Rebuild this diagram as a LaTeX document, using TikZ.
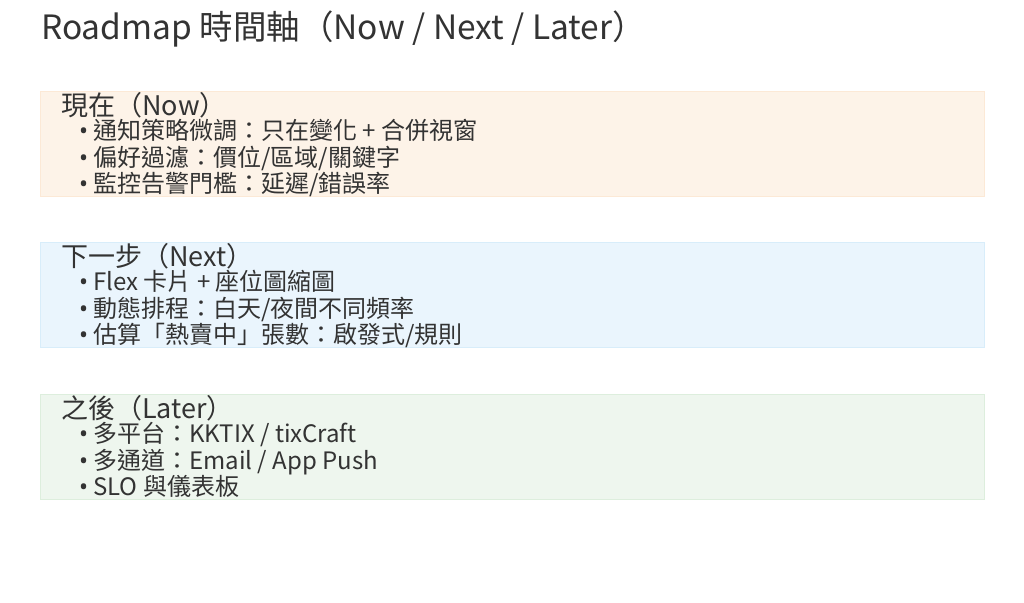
\documentclass[tikz,border=0pt]{standalone}
\usepackage{fontspec}
\setmainfont{Noto Sans CJK TC}
\newfontfamily\dotfont{Noto Sans}
\definecolor{nowfill}{HTML}{FDF3E8}
\definecolor{nowline}{HTML}{FCE9D6}
\definecolor{nextfill}{HTML}{EAF5FD}
\definecolor{nextline}{HTML}{D8EDFA}
\definecolor{laterfill}{HTML}{EEF6EE}
\definecolor{laterline}{HTML}{DDEEDD}
\definecolor{ink}{HTML}{333333}
\newcommand{\itm}{{\dotfont •}\hspace{5pt}}

\begin{document}
\begin{tikzpicture}[x=1pt, y=-1pt, text=ink,
    phase/.style={anchor=north west, minimum width=944pt, minimum height=105pt, inner sep=0pt},
    title/.style={anchor=base west, inner sep=0pt, font=\fontsize{33.5}{38}\selectfont},
    head/.style={anchor=base west, inner sep=0pt, font=\fontsize{27}{30}\selectfont},
    item/.style={anchor=base west, inner sep=0pt, font=\fontsize{24}{28}\selectfont}]
  \useasboundingbox (0,0) rectangle (1024,602);

  \node[title] (title) at (41,39.5) {Roadmap 時間軸（Now / Next / Later）};

  % Now
  \node[phase, fill=nowfill, draw=nowline] (now) at (40,91) {};
  \node[head] (nowhead) at (61,115) {現在（Now）};
  \node[item] (now1) at (79,139.5) {\itm 通知策略微調：只在變化 + 合併視窗};
  \node[item] (now2) at (79,166) {\itm 偏好過濾：價位/區域/關鍵字};
  \node[item] (now3) at (79,192.5) {\itm 監控告警門檻：延遲/錯誤率};

  % Next
  \node[phase, fill=nextfill, draw=nextline] (next) at (40,242) {};
  \node[head] (nexthead) at (61,266) {下一步（Next）};
  \node[item] (next1) at (79,290.5) {\itm Flex 卡片 + 座位圖縮圖};
  \node[item] (next2) at (79,317) {\itm 動態排程：白天/夜間不同頻率};
  \node[item] (next3) at (79,343.5) {\itm 估算「熱賣中」張數：啟發式/規則};

  % Later
  \node[phase, fill=laterfill, draw=laterline] (later) at (40,394) {};
  \node[head] (laterhead) at (61,418) {之後（Later）};
  \node[item] (later1) at (79,442.5) {\itm 多平台：KKTIX / tixCraft};
  \node[item] (later2) at (79,469) {\itm 多通道：Email / App Push};
  \node[item] (later3) at (79,495.5) {\itm SLO 與儀表板};
\end{tikzpicture}
\end{document}
